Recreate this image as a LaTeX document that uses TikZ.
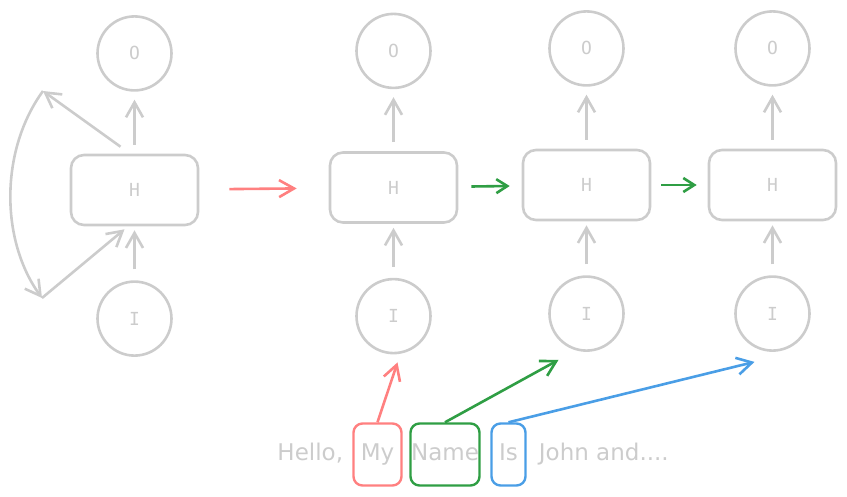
\documentclass[tikz,border=0pt]{standalone}
\usepackage{fontspec}
\setmainfont{DejaVu Sans}
\newfontfamily\labelfont{DejaVu Sans Mono}
\usetikzlibrary{positioning,calc,arrows.meta}
\definecolor{pencil}{RGB}{204,204,204}
\definecolor{redink}{RGB}{255,128,128}
\definecolor{greenink}{RGB}{47,158,68}
\definecolor{blueink}{RGB}{74,158,230}

\begin{document}
\begin{tikzpicture}[x=1pt, y=-1pt, >={Straight Barb[length=15pt,width=17pt]},
    every node/.style={text=pencil},
    unit/.style={draw=pencil, line width=2.6pt, circle, minimum size=74pt, font=\labelfont\fontsize{18}{18}\selectfont},
    cell/.style={draw=pencil, line width=2.6pt, rounded corners=13pt, minimum width=127pt, minimum height=70pt, font=\labelfont\fontsize{18}{18}\selectfont},
    link/.style={->, draw=pencil, line width=2.6pt},
    hop/.style={->, draw=greenink, line width=2.6pt, >={Straight Barb[length=11pt,width=14pt]}},
    word/.style={font=\fontsize{23}{23}\selectfont, text height=17pt, text depth=5pt, inner sep=0pt},
    pick/.style={word, line width=2.4pt, rounded corners=9pt, minimum height=62pt}]
    \useasboundingbox (0,0) rectangle (847,496);

    % folded cell
    \node (h1) [cell] at (134.5,190) {H};
    \node (o1) [unit, above=62pt of h1] {O};
    \node (i1) [unit, below=54pt of h1] {I};
    \draw[link, shorten <=9pt, shorten >=8pt] (h1) -- (o1);
    \draw[link, shorten <=11pt, shorten >=4pt] (i1) -- (h1);
    \coordinate (lt) at (43,91);
    \coordinate (lb) at (42,298);
    \draw[link] ($(h1.north)+(-14,-7)$) -- (lt);
    \draw[link] (lt) .. controls (0,150) and (0,240) .. (lb);
    \draw[link] (lb) -- ($(h1.south)+(-10,3)$);

    % unrolled cells
    \node (h2) [cell] at (393.5,187.5) {H};
    \node (o2) [unit, above=62pt of h2] {O};
    \node (i2) [unit, below=54pt of h2] {I};
    \node (h3) [cell] at (586.5,185) {H};
    \node (o3) [unit, above=62pt of h3] {O};
    \node (i3) [unit, below=54pt of h3] {I};
    \node (h4) [cell] at (772.5,185) {H};
    \node (o4) [unit, above=62pt of h4] {O};
    \node (i4) [unit, below=54pt of h4] {I};
    \draw[link, shorten <=9pt, shorten >=8pt] (h2) -- (o2);
    \draw[link, shorten <=9pt, shorten >=8pt] (h3) -- (o3);
    \draw[link, shorten <=9pt, shorten >=8pt] (h4) -- (o4);
    \draw[link, shorten <=11pt, shorten >=4pt] (i2) -- (h2);
    \draw[link, shorten <=11pt, shorten >=4pt] (i3) -- (h3);
    \draw[link, shorten <=11pt, shorten >=4pt] (i4) -- (h4);
    \draw[hop, shorten <=13pt, shorten >=12pt] (h2) -- (h3);
    \draw[hop, shorten <=10pt, shorten >=11pt] (h3) -- (h4);
    \draw[link, draw=redink, shorten <=30pt, shorten >=32pt] (h1) -- (h2);

    % sentence
    \node (my)   [pick, draw=redink, minimum width=48pt] at (377.5,454.5) {My};
    \node (name) [pick, draw=greenink, minimum width=69pt] at (445,454.5) {Name};
    \node (is)   [pick, draw=blueink, minimum width=34pt] at (508.5,454.5) {Is};
    \node (hello) [word, left=9pt of my] {Hello,};
    \node (john)  [word, right=12pt of is] {John and....};
    \draw[link, draw=redink] (my.north) -- ($(i2.south)+(4,8)$);
    \draw[link, draw=greenink] (name.north) -- ($(i3.south)+(-28,8)$);
    \draw[link, draw=blueink] (is.north) -- ($(i4.south)+(-18,10)$);
\end{tikzpicture}
\end{document}
